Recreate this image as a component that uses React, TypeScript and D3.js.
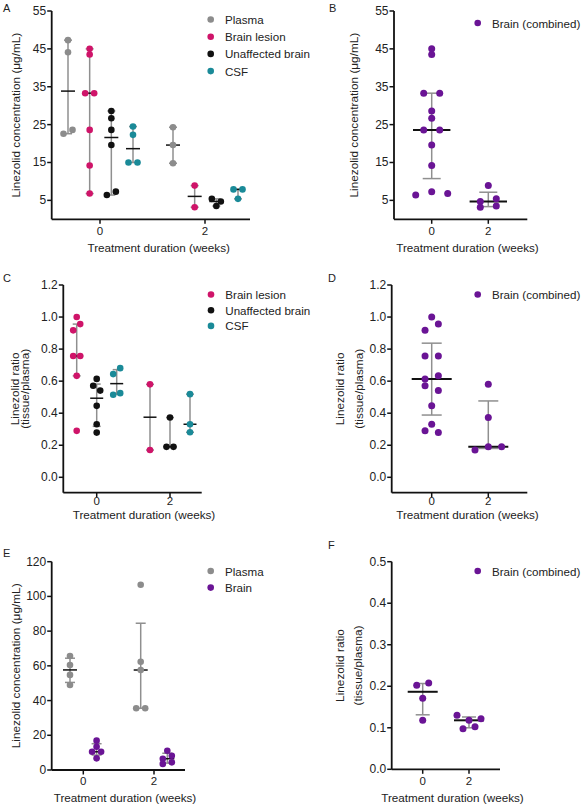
import React from "react";
import * as d3 from "d3";

// ---------- shared categories ----------
const weeks = ["0", "2"];

const COLOR_PLASMA = "#8c8c8c";
const COLOR_LESION = "#cf1469";
const COLOR_UNAFFECTED = "#111111";
const COLOR_CSF = "#1a8a98";
const COLOR_BRAIN = "#6a1495";

// ---------- Panel A: linezolid concentration (µg/mL), [week 0, week 2] ----------
const plasmaConcA = [[47.3, 44.1, 22.6, 23.6], [24.3, 19.6, 14.8]];
const lesionConcA = [[45.0, 43.5, 33.3, 33.3, 23.6, 14.2, 6.8], [8.9, 3.2]];
const unaffectedConcA = [[28.6, 26.7, 23.6, 19.6, 6.4, 7.3], [5.4, 4.7, 3.5]];
const csfConcA = [[24.5, 22.3, 15.0, 15.0], [7.9, 7.9, 5.4]];
const concTicksAB = [5, 15, 25, 35, 45, 55];

// ---------- Panel B: brain (combined) concentration ----------
const brainConcB = [
  [45.0, 43.5, 33.3, 33.3, 28.6, 26.7, 23.6, 23.6, 19.6, 14.2, 6.4, 7.3, 6.8],
  [8.9, 4.7, 5.4, 3.2, 3.5],
];

// ---------- Panel C: tissue/plasma ratio ----------
const lesionRatioC = [[1.0, 0.917, 0.956, 0.757, 0.757, 0.633, 0.29], [0.58, 0.17]];
const unaffectedRatioC = [[0.614, 0.571, 0.541, 0.446, 0.331, 0.279], [0.373, 0.19, 0.19]];
const csfRatioC = [[0.644, 0.681, 0.515, 0.525], [0.519, 0.331, 0.281]];
const ratioTicksCD = [0, 0.2, 0.4, 0.6, 0.8, 1.0, 1.2];

// ---------- Panel D: brain (combined) ratio ----------
const brainRatioD = [
  [1.0, 0.917, 0.956, 0.757, 0.757, 0.614, 0.633, 0.571, 0.541, 0.446, 0.331, 0.29, 0.279],
  [0.58, 0.373, 0.17, 0.19, 0.19],
];

// ---------- Panel E: concentration ----------
const plasmaConcE = [[65.7, 60.5, 54.8, 49.0], [106.7, 62.4, 57.6, 35.6, 35.6]];
const brainConcE = [[16.9, 13.4, 10.5, 10.5, 6.7], [11.1, 6.5, 8.2, 3.5, 4.4]];
const concTicksE = [0, 20, 40, 60, 80, 100, 120];

// ---------- Panel F: brain (combined) ratio ----------
const brainRatioF = [[0.2024, 0.208, 0.171, 0.118], [0.13, 0.118, 0.122, 0.0976, 0.1024]];
const ratioTicksF = [0, 0.1, 0.2, 0.3, 0.4, 0.5];

// ---------- text ----------
const X_TITLE = "Treatment duration (weeks)";
const Y_CONC = ["Linezolid concentration (μg/mL)"];
const Y_RATIO = ["Linezolid ratio", "(tissue/plasma)"];

type Series = { name: string; color: string; data: number[][] };
type Panel = {
  letter: string;
  letterPos: [number, number];
  left: number;
  right: number;
  bottom: number;
  yDomain: [number, number];
  yRange: [number, number];
  ticks: number[];
  fmt: (v: number) => string;
  xCenters: [number, number];
  groupSpan: [number, number];
  series: Series[];
  err: "range" | "iqr";
  medianHalf: number;
  medianWidth: number;
  capHalf: number;
  r: number;
  thresh: number;
  spacing: number;
  legend: { x: number; y: number; dy: number };
  yTitle: string[];
  yTitleX: number[];
  xTitleX: number;
  xTitleY: number;
  tickLabelY: number;
};

const FONT = "'Liberation Sans', Arial, Helvetica, sans-serif";
const TEXT = "#222";
const GRAY_LINE = "#8f8f8f";

function q6(sorted: number[], p: number) {
  const n = sorted.length;
  const pos = (n + 1) * p;
  if (pos <= 1) return sorted[0];
  if (pos >= n) return sorted[n - 1];
  const lo = Math.floor(pos);
  return sorted[lo - 1] + (pos - lo) * (sorted[lo] - sorted[lo - 1]);
}

function arrange(values: number[], y: (v: number) => number, thresh: number, spacing: number) {
  const idx = values.map((_, i) => i).sort((a, b) => values[b] - values[a]);
  const offsets = new Array(values.length).fill(0);
  let row: number[] = [];
  let startY = 0;
  const flush = () => {
    const m = row.slice().sort((a, b) => a - b);
    const n = m.length;
    m.forEach((k, j) => (offsets[k] = (j - (n - 1) / 2) * spacing));
  };
  idx.forEach((i) => {
    const py = y(values[i]);
    if (row.length && Math.abs(py - startY) <= thresh + 1e-6) row.push(i);
    else {
      if (row.length) flush();
      row = [i];
      startY = py;
    }
  });
  if (row.length) flush();
  return offsets;
}

const fmtInt = d3.format("d");
const fmt1 = d3.format(".1f");

const panels: Panel[] = [
  {
    letter: "A",
    letterPos: [3, 12],
    left: 51.7,
    right: 250,
    bottom: 219.3,
    yDomain: [0, 55],
    yRange: [219.3, 11],
    ticks: concTicksAB,
    fmt: fmtInt,
    xCenters: [100, 205],
    groupSpan: [-32, 33],
    series: [
      { name: "Plasma", color: COLOR_PLASMA, data: plasmaConcA },
      { name: "Brain lesion", color: COLOR_LESION, data: lesionConcA },
      { name: "Unaffected brain", color: COLOR_UNAFFECTED, data: unaffectedConcA },
      { name: "CSF", color: COLOR_CSF, data: csfConcA },
    ],
    err: "range",
    medianHalf: 7,
    medianWidth: 1.5,
    capHalf: 4,
    r: 3.3,
    thresh: 4.5,
    spacing: 9,
    legend: { x: 210.7, y: 19.5, dy: 17.2 },
    yTitle: Y_CONC,
    yTitleX: [15.5],
    xTitleX: 158.7,
    xTitleY: 252,
    tickLabelY: 235,
  },
  {
    letter: "B",
    letterPos: [329, 12],
    left: 394,
    right: 527.3,
    bottom: 219.3,
    yDomain: [0, 55],
    yRange: [219.3, 11],
    ticks: concTicksAB,
    fmt: fmtInt,
    xCenters: [431.7, 488.3],
    groupSpan: [0, 0],
    series: [{ name: "Brain (combined)", color: COLOR_BRAIN, data: brainConcB }],
    err: "iqr",
    medianHalf: 18.7,
    medianWidth: 2,
    capHalf: 9,
    r: 3.5,
    thresh: 4.5,
    spacing: 16,
    legend: { x: 477.7, y: 23, dy: 17 },
    yTitle: Y_CONC,
    yTitleX: [353.5],
    xTitleX: 467.5,
    xTitleY: 252,
    tickLabelY: 235,
  },
  {
    letter: "C",
    letterPos: [3, 282],
    left: 63.3,
    right: 201.7,
    bottom: 492.7,
    yDomain: [0, 1.2],
    yRange: [477.3, 285],
    ticks: ratioTicksCD,
    fmt: fmt1,
    xCenters: [96.7, 170],
    groupSpan: [-20, 20],
    series: [
      { name: "Brain lesion", color: COLOR_LESION, data: lesionRatioC },
      { name: "Unaffected brain", color: COLOR_UNAFFECTED, data: unaffectedRatioC },
      { name: "CSF", color: COLOR_CSF, data: csfRatioC },
    ],
    err: "iqr",
    medianHalf: 6.5,
    medianWidth: 1.5,
    capHalf: 4,
    r: 3.3,
    thresh: 6.5,
    spacing: 7,
    legend: { x: 211, y: 294.5, dy: 15.7 },
    yTitle: Y_RATIO,
    yTitleX: [14.5, 24.8],
    xTitleX: 144,
    xTitleY: 518.5,
    tickLabelY: 504.5,
  },
  {
    letter: "D",
    letterPos: [328, 282],
    left: 391.7,
    right: 527.3,
    bottom: 492.7,
    yDomain: [0, 1.2],
    yRange: [477.3, 285],
    ticks: ratioTicksCD,
    fmt: fmt1,
    xCenters: [431.7, 488.3],
    groupSpan: [0, 0],
    series: [{ name: "Brain (combined)", color: COLOR_BRAIN, data: brainRatioD }],
    err: "iqr",
    medianHalf: 20,
    medianWidth: 2,
    capHalf: 10,
    r: 3.5,
    thresh: 6.5,
    spacing: 13.3,
    legend: { x: 477.7, y: 294.5, dy: 17 },
    yTitle: Y_RATIO,
    yTitleX: [340, 358.8],
    xTitleX: 467.5,
    xTitleY: 518.5,
    tickLabelY: 504.5,
  },
  {
    letter: "E",
    letterPos: [3, 557],
    left: 51.7,
    right: 185,
    bottom: 770,
    yDomain: [0, 120],
    yRange: [770, 561.7],
    ticks: concTicksE,
    fmt: fmtInt,
    xCenters: [83.3, 154],
    groupSpan: [-13.3, 13.3],
    series: [
      { name: "Plasma", color: COLOR_PLASMA, data: plasmaConcE },
      { name: "Brain", color: COLOR_BRAIN, data: brainConcE },
    ],
    err: "iqr",
    medianHalf: 7,
    medianWidth: 1.5,
    capHalf: 5,
    r: 3.3,
    thresh: 4.5,
    spacing: 9,
    legend: { x: 210.7, y: 571, dy: 16.6 },
    yTitle: Y_CONC,
    yTitleX: [15.8],
    xTitleX: 125,
    xTitleY: 802,
    tickLabelY: 785,
  },
  {
    letter: "F",
    letterPos: [328, 549],
    left: 391.7,
    right: 500,
    bottom: 769.3,
    yDomain: [0, 0.5],
    yRange: [769.3, 561.7],
    ticks: ratioTicksF,
    fmt: fmt1,
    xCenters: [422.7, 469],
    groupSpan: [0, 0],
    series: [{ name: "Brain (combined)", color: COLOR_BRAIN, data: brainRatioF }],
    err: "iqr",
    medianHalf: 15,
    medianWidth: 2,
    capHalf: 7,
    r: 3.5,
    thresh: 5.5,
    spacing: 12,
    legend: { x: 477.7, y: 571, dy: 17 },
    yTitle: Y_RATIO,
    yTitleX: [339.7, 357.5],
    xTitleX: 452.5,
    xTitleY: 802,
    tickLabelY: 785,
  },
];

function PanelView({ p }: { p: Panel }) {
  const y = d3.scaleLinear().domain(p.yDomain).range(p.yRange);
  const x = d3.scalePoint<string>().domain(weeks).range(p.xCenters);
  const sub = d3
    .scalePoint<string>()
    .domain(p.series.map((s) => s.name))
    .range(p.groupSpan);
  const yTop = y(d3.max(p.ticks) as number);
  const yMid = (yTop + p.bottom) / 2;

  const groups: React.ReactNode[] = [];
  const dots: React.ReactNode[] = [];
  p.series.forEach((s) => {
    weeks.forEach((w, wi) => {
      const vals = s.data[wi];
      const cx = (x(w) as number) + (sub(s.name) as number);
      const sorted = vals.slice().sort((a, b) => a - b);
      const med = d3.median(sorted) as number;
      const lo = p.err === "range" ? sorted[0] : q6(sorted, 0.25);
      const hi = p.err === "range" ? sorted[sorted.length - 1] : q6(sorted, 0.75);
      const key = `${s.name}-${w}`;
      groups.push(
        <g key={key}>
          <line x1={cx} x2={cx} y1={y(lo)} y2={y(hi)} stroke={GRAY_LINE} strokeWidth={1.5} />
          <line x1={cx - p.capHalf} x2={cx + p.capHalf} y1={y(lo)} y2={y(lo)} stroke={GRAY_LINE} strokeWidth={1.5} />
          <line x1={cx - p.capHalf} x2={cx + p.capHalf} y1={y(hi)} y2={y(hi)} stroke={GRAY_LINE} strokeWidth={1.5} />
          <line
            x1={cx - p.medianHalf}
            x2={cx + p.medianHalf}
            y1={y(med)}
            y2={y(med)}
            stroke="#111"
            strokeWidth={p.medianWidth}
          />
        </g>
      );
      const offs = arrange(vals, (v) => y(v), p.thresh, p.spacing);
      vals.forEach((v, i) => {
        dots.push(<circle key={`${key}-${i}`} cx={cx + offs[i]} cy={y(v)} r={p.r} fill={s.color} />);
      });
    });
  });

  return (
    <g fontFamily={FONT} fill={TEXT}>
      <text x={p.letterPos[0]} y={p.letterPos[1]} fontSize={11}>
        {p.letter}
      </text>
      {/* y axis */}
      <line x1={p.left} x2={p.left} y1={yTop} y2={p.bottom} stroke="#111" strokeWidth={1.8} />
      {p.ticks.map((t) => (
        <g key={t}>
          <line x1={p.left - 4.5} x2={p.left} y1={y(t)} y2={y(t)} stroke="#111" strokeWidth={1.5} />
          <text x={p.left - 5.5} y={y(t)} textAnchor="end" dominantBaseline="central" fontSize={12}>
            {p.fmt(t)}
          </text>
        </g>
      ))}
      {/* x axis */}
      <line x1={p.left} x2={p.right} y1={p.bottom} y2={p.bottom} stroke="#111" strokeWidth={1.8} />
      {weeks.map((w) => (
        <g key={w}>
          <line x1={x(w)} x2={x(w)} y1={p.bottom} y2={p.bottom + 4.5} stroke="#111" strokeWidth={1.5} />
          <text x={x(w)} y={p.tickLabelY} textAnchor="middle" fontSize={11.5}>
            {w}
          </text>
        </g>
      ))}
      <text x={p.xTitleX} y={p.xTitleY} textAnchor="middle" fontSize={11.7}>
        {X_TITLE}
      </text>
      {p.yTitle.map((line, i) => (
        <text
          key={line}
          transform={`translate(${p.yTitleX[i]},${yMid}) rotate(-90)`}
          textAnchor="middle"
          dominantBaseline="central"
          fontSize={11.8}
        >
          {line}
        </text>
      ))}
      {groups}
      {dots}
      {p.series.map((s, i) => (
        <g key={s.name}>
          <circle cx={p.legend.x} cy={p.legend.y + i * p.legend.dy} r={3.3} fill={s.color} />
          <text
            x={p.legend.x + 14.3}
            y={p.legend.y + i * p.legend.dy}
            dominantBaseline="central"
            fontSize={11.6}
          >
            {s.name}
          </text>
        </g>
      ))}
    </g>
  );
}

export default function App() {
  return (
    <svg
      width={585}
      height={809}
      viewBox="0 0 585 809"
      style={{ position: "absolute", left: 0, top: 0, background: "#fff" }}
    >
      <rect width={585} height={809} fill="#fff" />
      {panels.map((p) => (
        <PanelView key={p.letter} p={p} />
      ))}
    </svg>
  );
}
